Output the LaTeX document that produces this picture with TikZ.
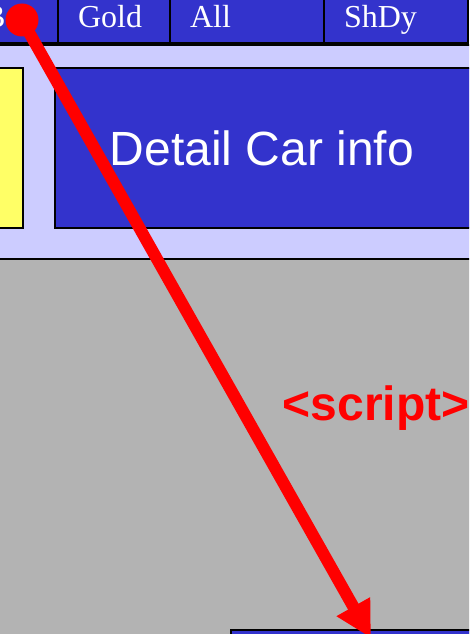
\documentclass[tikz,border=0pt]{standalone}
\usepackage{fontspec}
\setmainfont{Liberation Serif}
\setsansfont{Liberation Sans}
\usepackage{tikz}
\usetikzlibrary{arrows.meta}

\definecolor{tabblue}{HTML}{3333CC}
\definecolor{panellav}{HTML}{CCCCFF}
\definecolor{panelgray}{HTML}{B3B3B3}
\definecolor{caryellow}{HTML}{FFFF66}

\begin{document}
\begin{tikzpicture}[x=1pt,y=-1pt,line width=2pt,
                    >={Triangle[width=36pt,length=36pt]}]
  \tikzstyle{tab}=[draw=black,fill=tabblue]
  \tikzstyle{tab label}=[anchor=base west,inner sep=0pt,text=white,
                         font=\fontsize{32}{38}\selectfont]
  \tikzstyle{big label}=[inner sep=0pt,text=white,
                         font=\sffamily\fontsize{48}{58}\selectfont]
  \tikzstyle{script label}=[anchor=base,inner sep=0pt,text=red,
                            font=\sffamily\bfseries\fontsize{48}{58}\selectfont]
  \tikzstyle{pin}=[circle,fill=red,inner sep=0pt,minimum size=33pt]
  \tikzstyle{pointer}=[->,draw=red,line width=12pt]

  \useasboundingbox (0,0) rectangle (469,634);
  \clip (0,0) rectangle (469,634);

  % page background
  \fill[panelgray] (-5,259) rectangle (475,645);
  \draw[fill=panellav] (-5,45.5) rectangle (475,259);

  % tab row
  \foreach \l/\r in {-40/58, 58/170, 170/324, 324/468}
    \draw[tab] (\l,-5) rectangle (\r,43.5);
  \node[tab label] (first) at (-17,28) {B};
  \node[tab label] (gold)  at (77,28)  {Gold};
  \node[tab label] (all)   at (189,28) {All};
  \node[tab label] (shdy)  at (343,28) {ShDy};

  % car boxes
  \draw[fill=caryellow] (-5,68) rectangle (23,228);
  \draw[tab] (55,68) rectangle (475,228);
  \node[big label] (detail) at (262,148) {Detail Car info};

  \draw[tab] (231,630) rectangle (475,650);

  \node[script label] (script) at (376,420) {<script>};

  % red pointer
  \coordinate (tip) at (371,638);
  \node[pin] (dot) at (22,20) {};
  \draw[pointer] (dot.center) -- (tip);
\end{tikzpicture}
\end{document}
